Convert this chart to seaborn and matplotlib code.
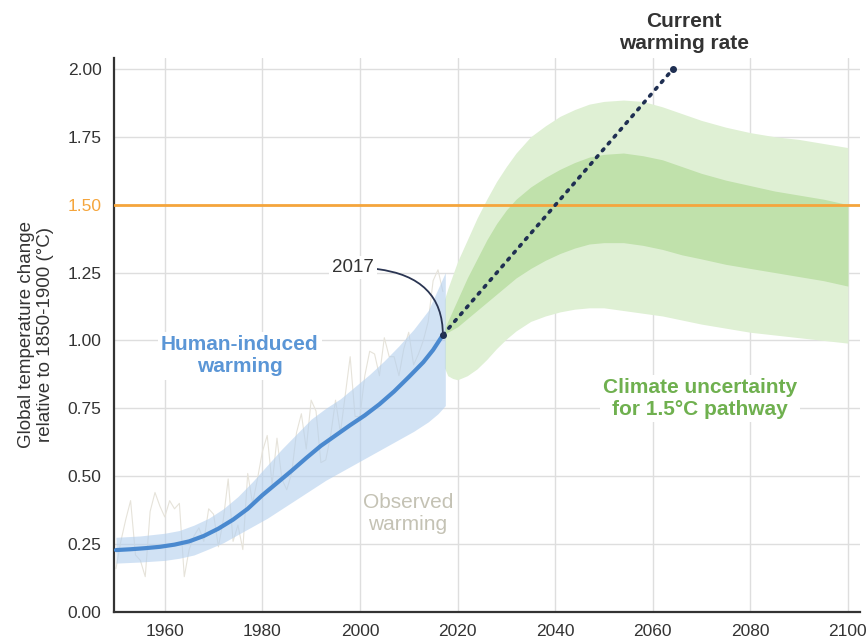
import numpy as np
import pandas as pd
import matplotlib
matplotlib.use("Agg")
import matplotlib.pyplot as plt
import seaborn as sns

# observed warming (annual, relative to 1850-1900)
obs_years = list(range(1950, 2018))
obs_vals = [0.16, 0.26, 0.34, 0.41, 0.21, 0.19, 0.13, 0.37, 0.44, 0.39,
            0.35, 0.41, 0.38, 0.40, 0.13, 0.23, 0.28, 0.31, 0.26, 0.38,
            0.36, 0.24, 0.34, 0.49, 0.26, 0.32, 0.23, 0.51, 0.40, 0.49,
            0.59, 0.65, 0.47, 0.64, 0.49, 0.45, 0.51, 0.66, 0.73, 0.60,
            0.78, 0.74, 0.55, 0.56, 0.65, 0.78, 0.66, 0.80, 0.94, 0.72,
            0.72, 0.87, 0.96, 0.95, 0.87, 1.01, 0.94, 0.94, 0.87, 0.97,
            1.03, 0.91, 0.95, 1.00, 1.07, 1.22, 1.26, 1.18]

# human-induced warming, best estimate
hum_years = [1950, 1953, 1956, 1959, 1962, 1965, 1968, 1971, 1974, 1977,
             1980, 1983, 1986, 1989, 1992, 1995, 1998, 2001, 2004, 2007,
             2010, 2013, 2015, 2017]
hum_mid = [0.228, 0.231, 0.235, 0.240, 0.248, 0.260, 0.280, 0.307, 0.340, 0.380,
           0.430, 0.475, 0.520, 0.567, 0.612, 0.650, 0.688, 0.724, 0.765, 0.812,
           0.865, 0.920, 0.965, 1.020]

# human-induced likely range
band_years = [1950, 1955, 1960, 1963, 1966, 1969, 1972, 1975, 1978, 1981,
              1984, 1987, 1990, 1993, 1996, 1999, 2002, 2005, 2008, 2011,
              2014, 2016, 2017.5]
band_hi = [0.275, 0.280, 0.290, 0.300, 0.320, 0.345, 0.380, 0.425, 0.480, 0.540,
           0.600, 0.655, 0.710, 0.750, 0.785, 0.830, 0.875, 0.925, 0.980, 1.040,
           1.110, 1.190, 1.250]
band_lo = [0.180, 0.184, 0.190, 0.198, 0.210, 0.232, 0.255, 0.285, 0.315, 0.345,
           0.380, 0.415, 0.450, 0.485, 0.515, 0.545, 0.575, 0.605, 0.635, 0.665,
           0.700, 0.730, 0.760]

# climate uncertainty for a 1.5C pathway
path_years = [2017.3, 2018, 2019, 2020, 2022, 2024, 2026, 2028, 2030, 2032,
              2035, 2038, 2041, 2044, 2047, 2050, 2054, 2058, 2062, 2066,
              2070, 2075, 2080, 2085, 2090, 2095, 2100]
outer_hi = [1.15, 1.19, 1.24, 1.29, 1.37, 1.45, 1.52, 1.585, 1.64, 1.69,
            1.75, 1.79, 1.825, 1.85, 1.87, 1.88, 1.885, 1.88, 1.86, 1.835,
            1.81, 1.785, 1.765, 1.75, 1.74, 1.725, 1.71]
outer_lo = [0.90, 0.87, 0.86, 0.855, 0.87, 0.895, 0.93, 0.97, 1.005, 1.035,
            1.07, 1.09, 1.105, 1.115, 1.12, 1.12, 1.11, 1.10, 1.09, 1.075,
            1.06, 1.045, 1.03, 1.02, 1.01, 1.0, 0.99]
inner_hi = [1.04, 1.07, 1.11, 1.15, 1.23, 1.30, 1.37, 1.43, 1.48, 1.52,
            1.565, 1.60, 1.63, 1.655, 1.675, 1.685, 1.69, 1.68, 1.665, 1.64,
            1.615, 1.59, 1.57, 1.55, 1.535, 1.52, 1.50]
inner_lo = [1.02, 1.03, 1.04, 1.05, 1.08, 1.11, 1.14, 1.17, 1.20, 1.23,
            1.265, 1.295, 1.32, 1.34, 1.355, 1.36, 1.36, 1.35, 1.335, 1.315,
            1.30, 1.28, 1.265, 1.25, 1.235, 1.22, 1.20]

# current warming rate extrapolation
rate_years = [2017, 2064.2]
rate_vals = [1.02, 2.0]

y_ticks = [0.0, 0.25, 0.5, 0.75, 1.0, 1.25, 1.5, 1.75, 2.0]
x_ticks = [1960, 1980, 2000, 2020, 2040, 2060, 2080, 2100]

sns.set_style("whitegrid")
plt.rcParams['font.family'] = ['Liberation Sans', 'DejaVu Sans']

fig = plt.figure(figsize=(8.67, 6.44), dpi=100)
ax = fig.add_axes([0.1315, 0.0497, 0.8605, 0.8603])

obs = pd.DataFrame({"year": obs_years, "temp": obs_vals})
hum = pd.DataFrame({"year": hum_years, "mid": hum_mid})
band = pd.DataFrame({"year": band_years, "hi": band_hi, "lo": band_lo})
path = pd.DataFrame({"year": path_years, "ohi": outer_hi, "olo": outer_lo,
                     "ihi": inner_hi, "ilo": inner_lo})

# green pathway bands
ax.fill_between(path["year"], path["olo"], path["ohi"], color="#dff0d4", lw=0, zorder=2)
ax.fill_between(path["year"], path["ilo"], path["ihi"], color="#c0e1ab", lw=0, zorder=2)

# observed
sns.lineplot(data=obs, x="year", y="temp", ax=ax, color="#e6e3da", lw=0.8, zorder=2)

# human-induced
ax.fill_between(band["year"], band["lo"], band["hi"], color="#b3cfee", alpha=0.6, lw=0, zorder=3)
sns.lineplot(data=hum, x="year", y="mid", ax=ax, color="#4a89cf", lw=3, zorder=4)

# 1.5 line
ax.axhline(1.5, color="#f5a53c", lw=2, zorder=3)

# warming rate
ax.plot(rate_years, rate_vals, color="#1f2f52", lw=2.6, ls=(0, (0.6, 1.9)),
        dash_capstyle="round", zorder=5)
ax.scatter(rate_years, rate_vals, s=16, color="#1f2f52", zorder=6)

ax.set_xlim(1949.6, 2102.5)
ax.set_ylim(0, 2.04)
ax.set_xticks(x_ticks)
ax.set_yticks(y_ticks)
ax.set_yticklabels([f"{v:.2f}" for v in y_ticks])
ax.grid(True, color="#dedede", lw=1)
ax.set_axisbelow(True)
ax.tick_params(axis="y", length=7, width=1, color="#aaaaaa", labelsize=12.5,
               labelcolor="#333333", pad=2)
ax.tick_params(axis="x", length=0, labelsize=12.5, labelcolor="#333333", pad=9)
ax.get_yticklabels()[6].set_color("#f5a53c")
for s in ["top", "right"]:
    ax.spines[s].set_visible(False)
for s in ["left", "bottom"]:
    ax.spines[s].set_color("#333333")
    ax.spines[s].set_linewidth(1.6)

ax.set_xlabel("")
ax.set_ylabel("Global temperature change\nrelative to 1850-1900 (°C)", fontsize=13.5,
              color="#333333", labelpad=10, linespacing=1.1)

white = dict(boxstyle="square,pad=0.15", fc="white", ec="none")
ax.text(1975.4, 0.943, "Human-induced\nwarming", ha="center", va="center", fontsize=15,
        fontweight="bold", color="#5b96d6", bbox=white, zorder=7)
ax.text(2009.8, 0.362, "Observed\nwarming", ha="center", va="center", fontsize=15,
        color="#c4c2b4", zorder=7)
ax.text(2069.7, 0.785, "Climate uncertainty\nfor 1.5°C pathway", ha="center", va="center",
        fontsize=15, fontweight="bold", color="#6fb04f", bbox=white, zorder=7)
ax.text(2066.4, 2.134, "Current\nwarming rate", ha="center", va="center", fontsize=15,
        fontweight="bold", color="#333333", clip_on=False)
ax.annotate("2017", xy=(2017, 1.02), xytext=(1998.6, 1.268), ha="center", va="center",
            fontsize=13.5, color="#333333", bbox=white, zorder=7,
            arrowprops=dict(arrowstyle="-", color="#2a3552", lw=1.3, shrinkA=0, shrinkB=0,
                            connectionstyle="angle3,angleA=0,angleB=90"))

fig.savefig("out.png", dpi=100)
